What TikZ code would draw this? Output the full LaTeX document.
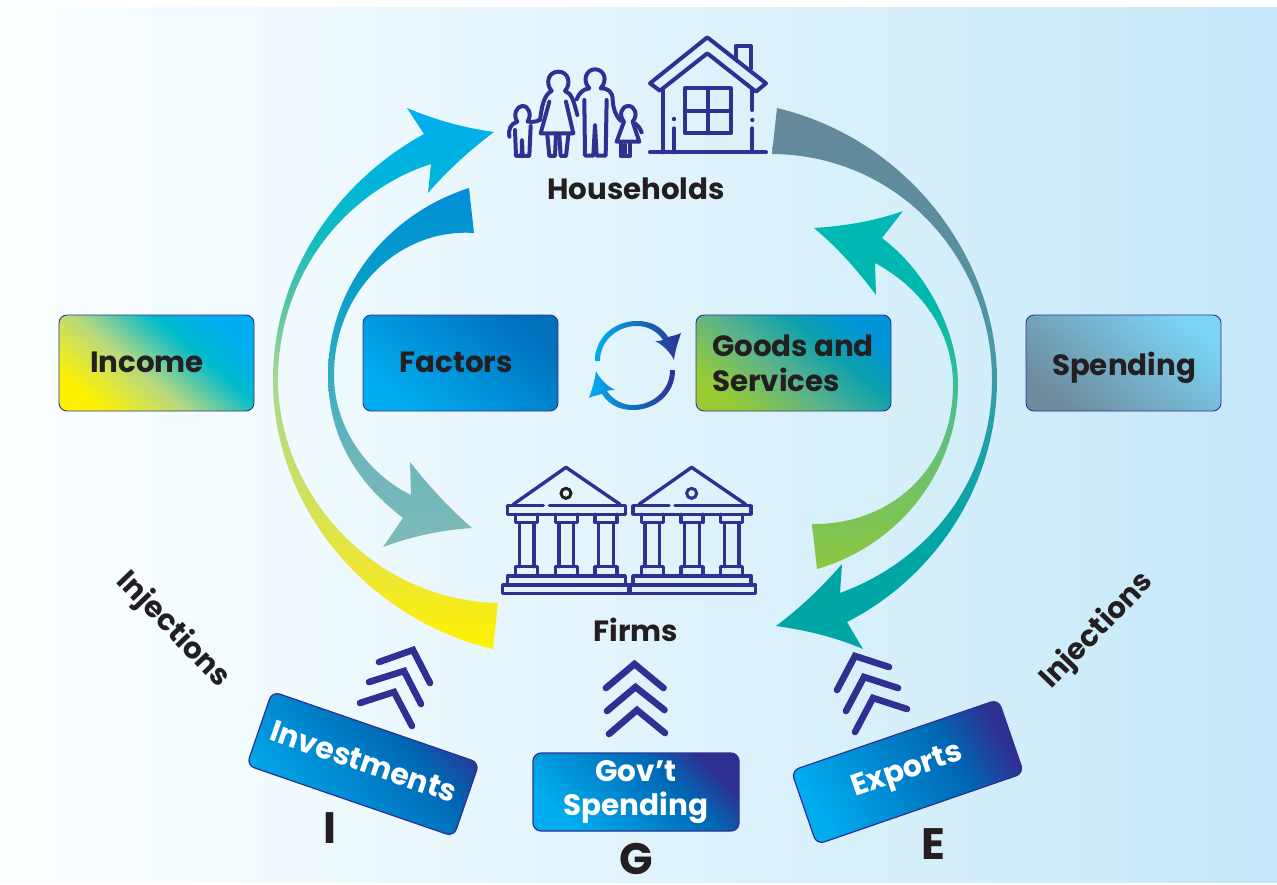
\documentclass[tikz,border=0pt]{standalone}
\usepackage{fontspec}
\setmainfont{Poppins}
\definecolor{ind}{HTML}{2E3192}
\definecolor{ink}{HTML}{231F20}
\pgfdeclarehorizontalshading{bgsh}{100bp}{rgb(0bp)=(1,1,1);rgb(25bp)=(.985,.997,1);rgb(37bp)=(.94,.98,.997);rgb(50bp)=(.88,.955,.988);rgb(62.5bp)=(.83,.935,.98);rgb(75bp)=(.77,.905,.975);rgb(100bp)=(.77,.905,.975)}
\pgfdeclareverticalshading{sA}{100bp}{rgb(0bp)=(1,.95,0);rgb(25bp)=(1,.95,0);rgb(33.2bp)=(.92,.90,.23);rgb(41.5bp)=(.78,.875,.41);rgb(49.9bp)=(.65,.85,.56);rgb(57.3bp)=(.34,.76,.66);rgb(62.8bp)=(.07,.74,.75);rgb(68.3bp)=(0,.71,.85);rgb(75bp)=(0,.68,.94);rgb(100bp)=(0,.68,.94)}
\pgfdeclareverticalshading{sB}{100bp}{rgb(0bp)=(.5,.73,.72);rgb(25bp)=(.5,.73,.72);rgb(38bp)=(.43,.71,.74);rgb(50bp)=(.19,.67,.77);rgb(62bp)=(.03,.62,.79);rgb(75bp)=(0,.56,.85);rgb(100bp)=(0,.56,.85)}
\pgfdeclareverticalshading{sC}{100bp}{rgb(0bp)=(0,.65,.65);rgb(25bp)=(0,.65,.65);rgb(35bp)=(0,.65,.65);rgb(45bp)=(.13,.63,.65);rgb(53bp)=(.29,.60,.64);rgb(62bp)=(.35,.56,.62);rgb(75bp)=(.4,.535,.6);rgb(100bp)=(.4,.535,.6)}
\pgfdeclareverticalshading{sD}{100bp}{rgb(0bp)=(.55,.78,.25);rgb(25bp)=(.55,.78,.25);rgb(38bp)=(.44,.76,.41);rgb(47bp)=(.32,.75,.53);rgb(55bp)=(.13,.74,.62);rgb(62bp)=(0,.725,.67);rgb(75bp)=(0,.72,.72);rgb(100bp)=(0,.72,.72)}
\pgfdeclarehorizontalshading{sIncome}{100bp}{rgb(0bp)=(1,.95,0);rgb(25bp)=(1,.95,0);rgb(44bp)=(.72,.85,.50);rgb(62bp)=(0,.73,.80);rgb(75bp)=(0,.68,.94);rgb(100bp)=(0,.68,.94)}
\pgfdeclarehorizontalshading{sFactors}{100bp}{rgb(0bp)=(0,.68,.94);rgb(25bp)=(0,.68,.94);rgb(75bp)=(0,.44,.74);rgb(100bp)=(0,.44,.74)}
\pgfdeclarehorizontalshading{sGoods}{100bp}{rgb(0bp)=(.6,.8,.2);rgb(25bp)=(.6,.8,.2);rgb(45bp)=(.35,.70,.55);rgb(62bp)=(.05,.63,.68);rgb(75bp)=(0,.58,.85);rgb(100bp)=(0,.58,.85)}
\pgfdeclarehorizontalshading{sSpend}{100bp}{rgb(0bp)=(.43,.55,.62);rgb(25bp)=(.43,.55,.62);rgb(75bp)=(.48,.83,.96);rgb(100bp)=(.48,.83,.96)}
\pgfdeclarehorizontalshading{sInj}{100bp}{rgb(0bp)=(0,.68,.94);rgb(25bp)=(0,.68,.94);rgb(62bp)=(0,.40,.70);rgb(75bp)=(.18,.19,.57);rgb(100bp)=(.18,.19,.57)}
\pgfdeclarehorizontalshading{sRing}{100bp}{rgb(0bp)=(0,.68,.94);rgb(25bp)=(0,.68,.94);rgb(75bp)=(.18,.19,.57);rgb(100bp)=(.18,.19,.57)}
\tikzset{
  sizedbox/.style={rounded corners=8pt,draw=ind,line width=.9pt,minimum width=195pt,minimum height=96pt,inner sep=0pt,shade,shading angle=50},
  injbox/.style={rounded corners=8pt,draw=ind,line width=1.2pt,inner sep=0pt,align=center,text=white,shade,shading=sInj,font=\fontsize{30}{34}\selectfont\bfseries},
  lab/.style={text=ink,inner sep=0pt,font=\fontsize{29.3}{35}\selectfont\bfseries},
  letter/.style={text=ink,inner sep=0pt,font=\fontsize{44}{44}\selectfont\bfseries},
  chev/.style={draw=ind,line width=6.6pt,line cap=round,line join=miter},
  icon/.style={draw=ind,line width=4pt,line cap=round,line join=round},
  thin icon/.style={draw=ind,line width=3.4pt,line cap=round,line join=round},
}
\begin{document}
\begin{tikzpicture}[x=1pt,y=-1pt]
\useasboundingbox (0,0) rectangle (1277,884);
\fill[white] (0,0) rectangle (1277,884);
\shade[shading=bgsh] (0,7) rectangle (1277,882);

% outer left arrow (yellow to cyan)
\shade[shading=sA] (493,649) .. controls (370,620) and (273,510) .. (273,380)
  .. controls (273,270) and (340,180) .. (424,134)
  -- (407,108) .. controls (435,120) and (465,128) .. (494,132)
  .. controls (470,150) and (448,170) .. (428,193)
  -- (431,164) .. controls (350,190) and (278,270) .. (278,380)
  .. controls (278,490) and (370,600) .. (498,603) -- cycle;
% inner left arrow (blue to grey teal)
\shade[shading=sB] (469,188) .. controls (385,215) and (328,290) .. (328,375)
  .. controls (328,440) and (360,485) .. (403,518)
  -- (383,547) .. controls (410,537) and (440,530) .. (472,528)
  .. controls (448,507) and (428,485) .. (410,462)
  -- (411,495) .. controls (370,475) and (334,430) .. (334,375)
  .. controls (334,290) and (400,228) .. (474,233) -- cycle;
% outer right arrow (grey to teal)
\shade[shading=sC] (777,108) .. controls (910,140) and (997,260) .. (997,380)
  .. controls (997,490) and (930,580) .. (847,622)
  -- (863,649) .. controls (835,637) and (805,630) .. (776,626)
  .. controls (800,608) and (822,587) .. (842,564)
  -- (840,593) .. controls (930,560) and (992,480) .. (992,380)
  .. controls (992,260) and (900,155) .. (772,154) -- cycle;
% inner right arrow (green to teal)
\shade[shading=sD] (817,569) .. controls (900,545) and (958,470) .. (958,385)
  .. controls (958,330) and (925,270) .. (882,238)
  -- (903,211) .. controls (875,221) and (845,226) .. (814,228)
  .. controls (838,248) and (858,271) .. (876,295)
  -- (875,263) .. controls (925,290) and (953,335) .. (953,385)
  .. controls (953,470) and (890,525) .. (812,524) -- cycle;

% boxes
\node[sizedbox,shading=sIncome] (income) at (156.5,363) {};
\node[sizedbox,shading=sFactors] (factors) at (460.5,363) {};
\node[sizedbox,shading=sGoods] (goods) at (793.5,363) {};
\node[sizedbox,shading=sSpend] (spending) at (1123.5,363) {};
\node[lab] (incometxt) at (147,362) {Income};
\node[lab] (factorstxt) at (456,362) {Factors};
\node[lab,anchor=west,align=left] (goodstxt) at (712,363.5) {Goods and\\Services};
\node[lab] (spendingtxt) at (1124,368) {Spending};

% ring arrows
\shade[shading=sRing,rounded corners=.4pt] (595,361) .. controls (595,337) and (615,321) .. (637,321)
  .. controls (650,321) and (661,326) .. (668,337) .. controls (672,336) and (677,335) .. (681,333)
  .. controls (678,342) and (675,351) .. (674,360) .. controls (670,352) and (663,345) .. (655,341)
  .. controls (658,341) and (660,341) .. (663,340)
  .. controls (657,331) and (647,326) .. (637,326)
  .. controls (617,326) and (600,341) .. (600,361) -- cycle;
\shade[shading=sRing,rounded corners=.4pt] (675,370) .. controls (675,394) and (655,410) .. (633,410)
  .. controls (620,410) and (609,405) .. (602,394) .. controls (598,395) and (593,396) .. (589,398)
  .. controls (592,389) and (595,380) .. (596,371) .. controls (600,379) and (607,386) .. (615,390)
  .. controls (612,390) and (610,390) .. (607,391)
  .. controls (613,400) and (623,405) .. (633,405)
  .. controls (653,405) and (670,390) .. (670,370) -- cycle;

% household icons
\begin{scope}[shift={(490,20)},x=.3333pt,y=-.3333pt]
  % house
  \draw[icon] (480,190) -- (652,52) -- (828,190) -- (798,215) -- (652,100) -- (510,212) -- cycle;
  \draw[icon] (737,115) -- (737,78) -- (782,78) -- (782,145);
  \draw[icon] (520,210) -- (520,397);
  \draw[icon] (787,210) -- (787,270);
  \draw[icon] (787,325) -- (787,397);
  \draw[icon] (552,325) -- (552,397);
  \fill[ind] (552,297) circle (6.5) (787,300) circle (6.5);
  \draw[icon] (480,397) -- (828,397);
  \draw[icon] (585,205) rectangle (722,340);
  \draw[icon] (653,205) -- (653,340) (585,272) -- (722,272);
  % woman
  \draw[icon] (150,300) .. controls (155,265) and (160,225) .. (185,213)
     .. controls (165,190) and (175,155) .. (205,155)
     .. controls (235,155) and (245,190) .. (225,213)
     .. controls (245,220) and (250,240) .. (262,285);
  \draw[icon] (178,245) -- (152,340) -- (250,340) -- (228,245);
  \draw[icon] (172,345) -- (178,408) -- (195,408) -- (198,345);
  \draw[icon] (208,345) -- (212,408) -- (228,408) -- (235,345);
  % man
  \draw[icon] (260,238) .. controls (270,215) and (280,208) .. (298,205)
     .. controls (275,180) and (290,148) .. (315,148)
     .. controls (342,148) and (355,180) .. (332,205)
     .. controls (355,205) and (368,215) .. (368,240)
     .. controls (370,265) and (375,285) .. (392,302);
  \draw[icon] (283,240) -- (285,407) -- (310,407) -- (315,315) -- (320,407) -- (347,407) -- (350,240);
  % boy
  \draw[icon] (58,350) .. controls (55,325) and (62,312) .. (82,305)
     .. controls (68,285) and (80,258) .. (97,258)
     .. controls (118,258) and (125,285) .. (113,305)
     .. controls (125,305) and (140,308) .. (150,298);
  \draw[icon] (75,330) -- (78,408) -- (95,408) -- (96,360) -- (98,408) -- (118,408) -- (122,318);
  % girl
  \draw[icon] (415,258) .. controls (395,258) and (385,285) .. (402,305)
     -- (380,365) -- (448,365) -- (428,305)
     .. controls (445,285) and (435,258) .. (415,258);
  \draw[icon] (430,308) .. controls (442,312) and (450,325) .. (455,337);
  \draw[icon] (392,368) -- (392,408) -- (420,408) -- (420,368) (406,375) -- (406,408);
\end{scope}

% firm icons
\begin{scope}[shift={(490,450)},x=.3333pt,y=-.3333pt]
  \foreach \dx/\cc in {0/ink,377/ind}{
  \begin{scope}[xshift=\dx*.3333pt]
    \draw[thin icon] (70,163) -- (228,52) -- (390,163);
    \draw[draw=\cc,line width=3pt] (228,130) circle (15);
    \draw[thin icon] (160,167) -- (52,167) -- (52,193) -- (406,193) -- (406,167) -- (178,167);
    \foreach \c in {110,229,348}{
      \draw[thin icon] (\c-33,193) -- (\c-33,218) -- (\c+33,218) -- (\c+33,193);
      \draw[thin icon] (\c-22,218) -- (\c-22,350) (\c+22,218) -- (\c+22,350);
      \draw[thin icon] (\c-33,375) -- (\c-33,350) -- (\c+33,350) -- (\c+33,375);
    }
    \draw[thin icon] (52,405) -- (52,378) -- (406,378) -- (406,405);
    \draw[thin icon] (38,405) rectangle (420,431);
  \end{scope}}
\end{scope}

\node[lab] (households) at (636,189) {Households};
\node[lab] (firms) at (636,630) {Firms};

% chevrons
\draw[chev] (379,662) -- (413,650) -- (430,683);
\draw[chev] (369,682) -- (404,671) -- (421,704);
\draw[chev] (360,703) -- (394,692) -- (412,726);
\draw[chev] (606,688) -- (634.5,664) -- (663.5,688);
\draw[chev] (607,711) -- (635.5,687) -- (664.5,710);
\draw[chev] (609,734) -- (637,710) -- (665,733);
\draw[chev] (837,690) -- (855,656) -- (889,667);
\draw[chev] (846,711) -- (864,677) -- (898,688);
\draw[chev] (855,732) -- (873,698) -- (907,709);

% injection boxes
\node[injbox,minimum width=219pt,minimum height=78pt,rotate=-19,shading angle=42] (investments) at (363,764) {\raisebox{5pt}{Investments}};
\node[injbox,minimum width=206pt,minimum height=78pt,shading angle=45,font=\fontsize{29.5}{34}\selectfont\bfseries] (gov) at (636,792) {Gov’t\\Spending};
\node[injbox,minimum width=219pt,minimum height=78pt,rotate=19,shading angle=30] (exports) at (907.5,772) {\raisebox{4pt}{Exports}};

% letters and side labels
\node[letter] (iletter) at (330,828) {I};
\node[letter] (gletter) at (636,859) {G};
\node[letter] (eletter) at (933,844) {E};
\node[lab,rotate=-46] (injleft) at (173,630) {Injections};
\node[lab,rotate=46] (injright) at (1097,631) {Injections};
\end{tikzpicture}
\end{document}
